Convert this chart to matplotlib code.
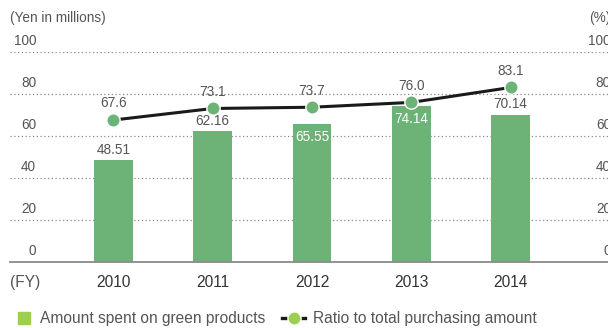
import matplotlib
matplotlib.use("Agg")
import matplotlib.pyplot as plt
from matplotlib.lines import Line2D
from matplotlib.patches import Rectangle

years = ["2010", "2011", "2012", "2013", "2014"]
amount = [48.51, 62.16, 65.55, 74.14, 70.14]
ratio = [67.6, 73.1, 73.7, 76.0, 83.1]
amount_inside = [False, False, True, True, False]
yticks = [0, 20, 40, 60, 80, 100]

plt.rcParams['font.family'] = ['Liberation Sans', 'DejaVu Sans']
FS = 9.8
FS2 = 11.2
GRAY = '#555555'
BAR = '#6db277'
LEG = '#9ccf4e'

W, H = 608, 328
fig = plt.figure(figsize=(W/100, H/100), dpi=100)
ax = fig.add_axes([10/W, 66/H, 598/W, 210/H])
x = list(range(len(years)))
ax.set_xlim(-1.04, 4.98)
ax.set_ylim(0, 100)
for s in ax.spines.values():
    s.set_visible(False)
ax.set_xticks([])
ax.set_yticks([])

for v in yticks[1:]:
    ax.axhline(v, color='#8a8a8a', lw=0.9, ls=(0, (1, 2)), zorder=0)
ax.axhline(0, color='#8a8a8a', lw=1.3, zorder=3, clip_on=False)

trans = ax.get_yaxis_transform()
for v in yticks:
    ax.annotate(str(v), xy=(0.0435, v), xycoords=trans, xytext=(0, 3), textcoords='offset points',
                ha='right', va='bottom', fontsize=FS, color=GRAY, annotation_clip=False)
    ax.annotate(str(v), xy=(1.005, v), xycoords=trans, xytext=(0, 3), textcoords='offset points',
                ha='right', va='bottom', fontsize=FS, color=GRAY, annotation_clip=False)

ax.bar(x, amount, width=0.39, color=BAR, zorder=2)
for xi, v, inside in zip(x, amount, amount_inside):
    if inside:
        ax.annotate(f"{v:.2f}", xy=(xi, v), xytext=(0, -4), textcoords='offset points',
                    ha='center', va='top', fontsize=FS, color='white', zorder=5)
    else:
        ax.annotate(f"{v:.2f}", xy=(xi, v), xytext=(0, 2.5), textcoords='offset points',
                    ha='center', va='bottom', fontsize=FS, color=GRAY, zorder=5)

ax.plot(x, ratio, color='#1a1a1a', lw=2.2, marker='o', markersize=9.6,
        markerfacecolor=BAR, markeredgecolor='white', markeredgewidth=1.0, zorder=4)
for xi, v in zip(x, ratio):
    ax.annotate(f"{v:.1f}", xy=(xi, v), xytext=(0, 7), textcoords='offset points',
                ha='center', va='bottom', fontsize=FS, color=GRAY, zorder=5)

xt = ax.get_xaxis_transform()
for xi, y in zip(x, years):
    ax.annotate(y, xy=(xi, 0), xycoords=xt, xytext=(0, -15), textcoords='offset points',
                ha='center', va='center', fontsize=FS2, color='#333333', annotation_clip=False)
ax.annotate("(FY)", xy=(0, 0), xycoords='axes fraction', xytext=(0, -15), textcoords='offset points',
            ha='left', va='center', fontsize=FS2, color=GRAY, annotation_clip=False)

fig.text(10/W, 1 - 18/H, "(Yen in millions)", ha='left', va='center', fontsize=FS, color=GRAY)
fig.text(611/W, 1 - 18/H, "(%)", ha='right', va='center', fontsize=FS, color=GRAY)

# legend
ly = 1 - 318/H
fig.patches.append(Rectangle((18/W, ly - 6/H), 12/W, 12/H, transform=fig.transFigure,
                             color=LEG, figure=fig))
fig.text(40/W, ly, "Amount spent on green products", ha='left', va='center', fontsize=FS2, color=GRAY)
fig.lines.append(Line2D([282/W, 305/W], [ly, ly], transform=fig.transFigure, color='#1a1a1a',
                        lw=2.4, figure=fig))
fig.lines.append(Line2D([293.5/W], [ly], transform=fig.transFigure, marker='o', markersize=9.5,
                        markerfacecolor=LEG, markeredgecolor='white', markeredgewidth=1.0,
                        figure=fig))
fig.text(313/W, ly, "Ratio to total purchasing amount", ha='left', va='center', fontsize=FS2, color=GRAY)

fig.savefig("out.png", dpi=100)
